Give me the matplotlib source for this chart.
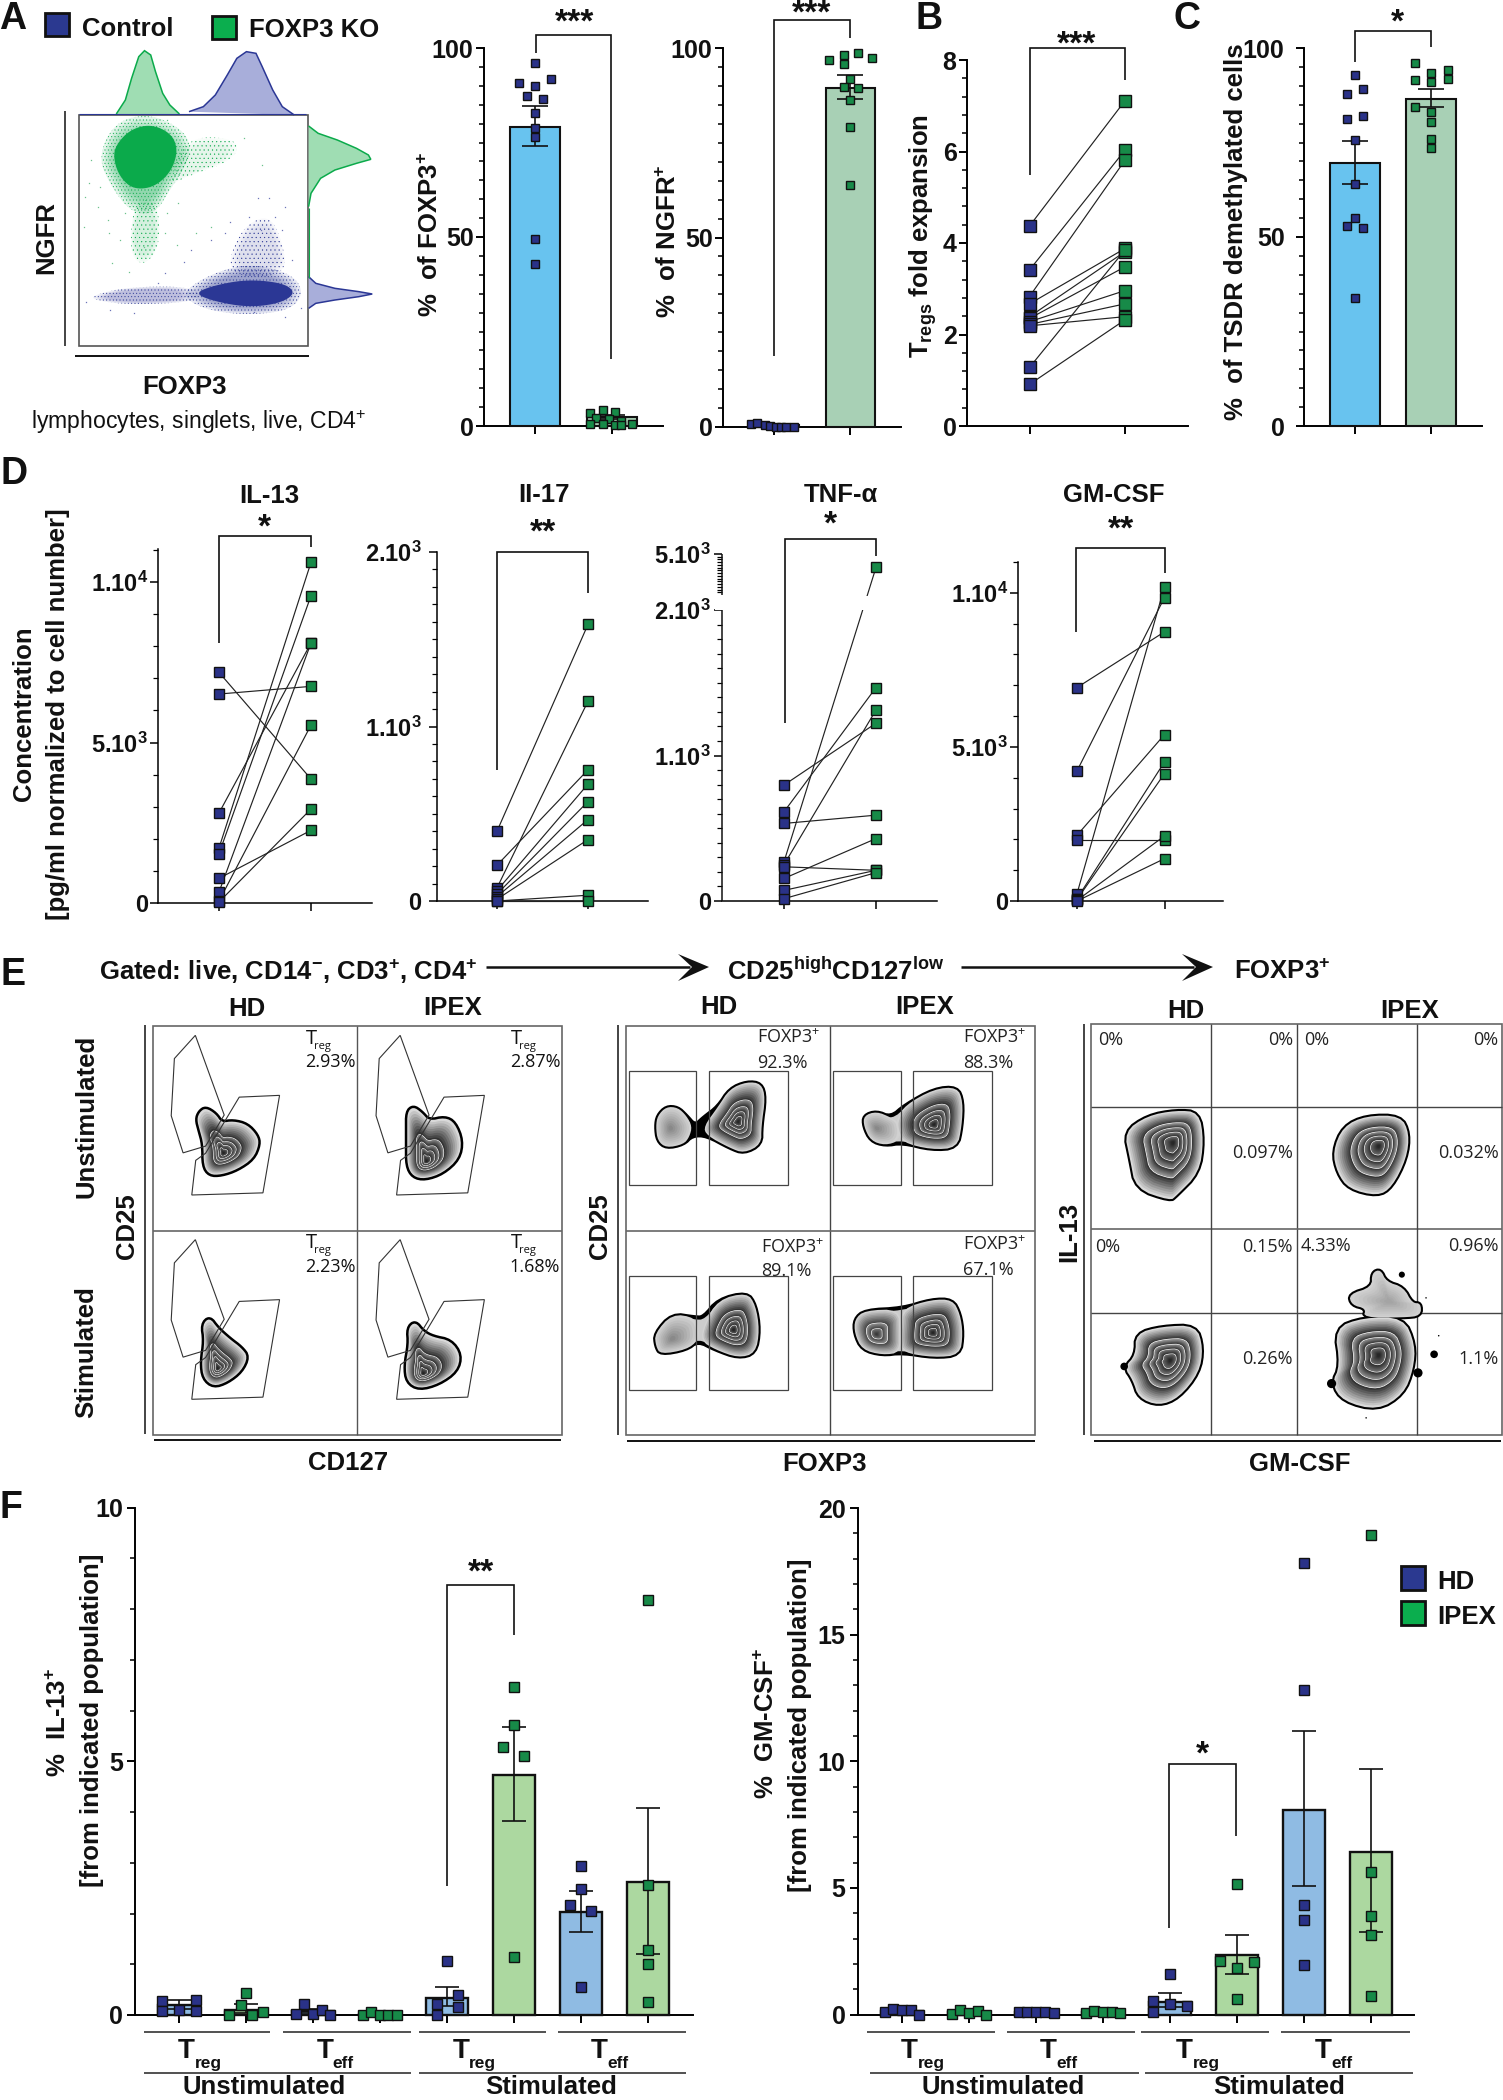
import numpy as np
import matplotlib
matplotlib.use("Agg")
import matplotlib.pyplot as plt
from matplotlib.patches import Polygon, Rectangle

W, H = 1503, 2100
plt.rcParams['font.family'] = ['Liberation Sans', 'DejaVu Sans']
plt.rcParams['mathtext.default'] = 'regular'
plt.rcParams['hatch.linewidth'] = 0.3

NAVY, KOGREEN = '#2A3288', '#178A48'
BLUE_A, GREEN_A = '#68C3EF', '#A8D0B5'
BLUE_F, GREEN_F = '#8FBBE3', '#ACD8A0'
DOT_G, DOT_B = '#0BAA4B', '#2B3795'

# ---------- panel A, % of FOXP3+
a1_mean = [79.2, 2.3]
a1_err_low = [5.0, 0.5]
a1_err_high = [5.4, 0.6]
a1_ctrl = [96, 90.7, 91.8, 89.9, 87.4, 86.5, 82.7, 78.9, 76.5, 49.5, 42.9]
a1_ctrl_off = [0, -.21, .21, 0, -.105, .105, 0, 0, 0, 0, 0]
a1_ko = [4.3, 3.4, 3.7, 2.1, 1.9, 1.2, .5, .5, .2, .5, .3]
a1_ko_off = [-.12, -.28, .04, -.21, -.04, .12, -.28, -.12, .04, .26, .12]
# ---------- panel A, % of NGFR+
a2_mean = [0.4, 89.4]
a2_err_low = [0.1, 2.9]
a2_err_high = [0.2, 3.6]
a2_ctrl = [.7, 1.0, .5, .2, .1, .1, .1, .1]
a2_ctrl_off = [-.3, -.22, -.12, -.05, .02, .09, .16, .26]
a2_ko = [96.9, 98.2, 95.8, 98.7, 97.4, 91.8, 89.7, 89.4, 86.3, 79.1, 63.8]
a2_ko_off = [-.277, -.09, -.09, .094, .28, 0, -.09, .094, 0, 0, 0]
# ---------- panel B
b_ctrl = [4.37, 3.41, 2.83, 2.67, 2.39, 2.35, 2.28, 2.22, 2.19, 1.28, .91]
b_ko = [7.11, 6.03, 5.81, 3.88, 3.81, 3.48, 2.96, 2.67, 2.39, 3.85, 2.32]
# ---------- panel C
c_mean = [69.5, 86.6]
c_err_low = [5.6, 2.1]
c_err_high = [5.9, 2.6]
c_ctrl = [92.8, 87.7, 89.1, 81.2, 82, 75.7, 63.9, 55.1, 52.8, 52.5, 33.8]
c_ctrl_off = [0, -.105, .105, -.105, .105, 0, 0, 0, -.105, .105, 0]
c_ko = [95.9, 93.5, 94.3, 91.9, 91.6, 91, 84.4, 83.1, 80.4, 76, 73.5]
c_ko_off = [-.21, 0, .22, .22, -.21, 0, -.21, 0, 0, 0, 0]
# ---------- panel D (before, after pairs)
il13_ctrl = [7186, 6511, 2804, 1713, 1537, 768, 343, 60, 31]
il13_ko = [3863, 6750, 8100, 10613, 9574, 2264, 8100, 5545, 2928]
il17_ctrl = [400, 205, 75, 60, 40, 25, 10, 0, 0]
il17_ko = [1585, 752, 1145, 670, 570, 467, 352, 33, 0]
tnf_ctrl = [797, 613, 533, 270, 250, 235, 155, 73, 16]
tnf_ko = [1222, 1467, 590, 4016, 1313, 211, 429, 211, 195]
gm_ctrl = [6926, 4221, 2132, 1970, 238, 76, 50, 20, 0]
gm_ko = [8734, 9848, 5400, 1970, 10195, 4513, 4134, 2110, 1374]
# ---------- panel F
f1_mean = [.2, .1, .07, .01, .34, 4.72, 2.02, 2.63]
f1_err_low = [.08, .06, .04, .01, .17, .9, .38, 1.42]
f1_err_high = [.1, .11, .05, .01, .21, .96, .42, 1.45]
f1_points = [[.27, .08, .1, .3, .08], [.44, .19, 0, 0, .06], [.21, .02, .02, .09, 0],
             [0, .05, 0, 0, 0], [1.06, .4, .21, .15, 0], [6.47, 5.72, 5.29, 5.1, 1.15],
             [2.93, 2.48, 2.17, 2.05, .56], [8.18, 2.56, 1.28, 1.0, .26]]
f1_off = [[-.25, -.25, 0, .26, .26], [0, -.08, -.25, .09, .25], [-.13, -.25, 0, .13, .25],
          [-.25, -.13, 0, .12, .26], [0, .16, -.15, .16, -.15], [0, 0, -.16, .15, 0],
          [0, 0, -.16, .15, 0], [0, 0, 0, 0, 0]]
f2_mean = [.12, .08, .09, .09, .5, 2.34, 8.09, 6.43]
f2_err_low = [.04, .04, .02, .02, .22, .73, 3.03, 3.19]
f2_err_high = [.04, .04, .02, .02, .36, .78, 3.1, 3.26]
f2_points = [[.09, .2, .17, .17, 0], [.03, .18, .05, .12, 0], [.08, .1, .1, .1, .06],
             [.06, .12, .09, .1, .06], [1.61, .52, .4, .32, .09], [5.15, 2.12, 2.06, 1.84, .63],
             [17.83, 12.8, 4.32, 3.73, 1.95], [18.95, 5.63, 3.87, 3.15, .72]]
f2_off = [[-.26, -.13, 0, .13, .26], [-.26, -.13, 0, .13, .26], [-.26, -.13, 0, .14, .27],
          [-.26, -.13, 0, .13, .26], [0, -.25, 0, .25, -.25], [0, -.25, .25, 0, 0],
          [0, 0, 0, 0, 0], [0, 0, 0, 0, 0]]

# ---------- flow cytometry shapes
HIST_TOP_G = [(243, 342), (262, 300), (275, 235), (290, 170), (302, 152), (315, 165), (325, 215), (340, 280), (355, 315), (375, 342)]
HIST_TOP_B = [(395, 335), (425, 320), (450, 285), (475, 225), (495, 175), (515, 155), (535, 160), (548, 200), (570, 270), (590, 320), (615, 345)]
HIST_R_G = [(645, 378), (665, 400), (705, 420), (745, 445), (770, 465), (775, 478), (745, 490), (700, 510), (670, 535), (650, 580), (645, 620)]
HIST_R_B = [(645, 830), (660, 850), (700, 865), (750, 875), (778, 882), (750, 890), (700, 900), (660, 910), (645, 925)]
CORE_G = [(240, 440), (270, 390), (315, 372), (358, 400), (372, 450), (358, 515), (322, 562), (278, 568), (250, 530), (238, 480)]
HALO_G = [(205, 470), (240, 365), (315, 340), (390, 395), (400, 470), (355, 570), (325, 640), (275, 640), (230, 555)]
CLOUD_G = [(385, 410), (500, 415), (490, 480), (390, 530), (350, 560)]
TAIL_G = [(280, 600), (330, 600), (335, 740), (300, 800), (270, 760)]
CORE_B = [(405, 880), (450, 855), (520, 838), (595, 850), (618, 880), (585, 910), (520, 922), (450, 905)]
HALO_B = [(375, 880), (450, 815), (530, 790), (615, 825), (635, 885), (600, 935), (500, 945), (420, 925)]
TAIL_B = [(195, 885), (270, 860), (410, 860), (420, 905), (270, 915), (195, 900)]
CLOUD_B = [(470, 830), (500, 690), (560, 640), (590, 720), (600, 830)]
SPARSE_G = [(190, 480), (178, 590), (175, 680), (205, 620), (225, 660), (235, 790), (250, 720), (270, 815), (300, 740), (345, 700), (370, 735), (440, 680), (185, 550), (210, 560), (228, 700), (262, 640), (350, 640), (372, 610), (410, 700), (548, 495), (510, 415), (285, 360), (350, 360)]
SPARSE_B = [(562, 595), (595, 620), (540, 595), (575, 650), (590, 690), (520, 650), (480, 665), (440, 720), (400, 750), (385, 785), (610, 780), (280, 940), (230, 930), (180, 905), (595, 950), (530, 935), (630, 925), (345, 820), (330, 850), (470, 700), (545, 690)]

GATE_A = [(441, 360), (494, 295), (567, 518), (520, 605), (463, 624), (433, 520)]
GATE_B = [(605, 468), (707, 463), (665, 736), (485, 742), (495, 645), (520, 625)]
E1_CELLS = [(0, 0), (518, 0), (0, 572), (518, 572)]
E1_BLOBS = [[(505, 510), (520, 498), (545, 515), (560, 540), (590, 535), (625, 545), (650, 575), (655, 600), (640, 640), (600, 670), (560, 685), (530, 685), (515, 660), (515, 600), (505, 560), (498, 530)],
            [(1030, 510), (1045, 495), (1065, 510), (1085, 535), (1125, 525), (1150, 540), (1168, 590), (1160, 640), (1120, 680), (1075, 697), (1045, 690), (1030, 660), (1030, 600), (1030, 560)],
            [(512, 1105), (530, 1085), (550, 1115), (580, 1145), (610, 1170), (627, 1195), (610, 1235), (575, 1265), (540, 1278), (515, 1255), (510, 1210), (518, 1150)],
            [(1032, 1115), (1050, 1097), (1070, 1125), (1095, 1140), (1140, 1150), (1165, 1190), (1155, 1235), (1110, 1270), (1060, 1285), (1030, 1265), (1025, 1220), (1035, 1160)]]
E1_CENTERS = [(565, 625), (1078, 648), (550, 1228), (1070, 1242)]
E1_TEXT = ['2.93%', '2.87%', '2.23%', '1.68%']

E2_BLOBS = [[(100, 520), (115, 495), (135, 497), (150, 520), (165, 548), (180, 525), (205, 495), (225, 445), (255, 425), (280, 430), (287, 470), (280, 550), (280, 600), (250, 625), (225, 610), (185, 575), (160, 575), (145, 600), (115, 610), (100, 590), (97, 550)],
            [(458, 520), (480, 508), (505, 525), (530, 490), (580, 445), (620, 440), (630, 480), (628, 550), (620, 610), (575, 615), (525, 595), (495, 603), (470, 590), (458, 550)],
            [(95, 1130), (125, 1075), (165, 1085), (180, 1085), (205, 1035), (255, 1015), (270, 1050), (277, 1120), (270, 1185), (240, 1198), (200, 1175), (170, 1150), (150, 1175), (105, 1188), (97, 1165)],
            [(442, 1090), (460, 1065), (525, 1060), (575, 1035), (612, 1035), (625, 1075), (630, 1130), (625, 1190), (580, 1197), (525, 1183), (490, 1190), (455, 1175), (442, 1130)]]
E2_RIGHT = [[(180, 550), (205, 495), (225, 445), (255, 425), (280, 430), (287, 470), (280, 550), (280, 600), (250, 625), (225, 610), (185, 575)],
            [(515, 530), (530, 490), (580, 445), (620, 440), (630, 480), (628, 550), (620, 610), (575, 615), (525, 595), (515, 560)],
            [(180, 1105), (205, 1035), (255, 1015), (270, 1050), (277, 1120), (270, 1185), (240, 1198), (200, 1175), (175, 1150)],
            [(522, 1110), (525, 1060), (575, 1035), (612, 1035), (625, 1075), (630, 1130), (625, 1190), (580, 1197), (525, 1183), (520, 1150)]]
E2_LEFT = [[(100, 520), (115, 495), (135, 497), (150, 520), (160, 550), (155, 580), (145, 600), (115, 610), (100, 590), (97, 550)],
           [(458, 520), (480, 508), (505, 525), (520, 540), (520, 590), (495, 603), (470, 590), (458, 550)],
           [(95, 1130), (125, 1075), (165, 1085), (172, 1120), (170, 1150), (150, 1175), (105, 1188), (97, 1165)],
           [(442, 1090), (460, 1065), (520, 1062), (522, 1120), (522, 1183), (490, 1190), (455, 1175), (442, 1130)]]
E2_C_R = [(240, 537), (580, 545), (232, 1120), (578, 1128)]
E2_C_L = [(122, 555), (480, 555), (125, 1145), (480, 1132)]
E2_GATE_X = [(50, 167), (190, 327), (405, 522), (544, 681)]
E2_GATE_Y = [(396, 715), (969, 1288)]
E2_LABELS = [(272, 296, 272, 366, '92.3%'), (630, 296, 630, 366, '88.3%'), (279, 883, 279, 950, '89.1%'), (630, 876, 630, 946, '67.1%')]

E3_BLOBS = [[(910, 565), (950, 520), (1000, 505), (1040, 510), (1048, 590), (1040, 680), (1000, 745), (990, 758), (930, 725), (920, 640)],
            [(1272, 620), (1290, 550), (1330, 520), (1390, 520), (1405, 570), (1400, 640), (1375, 720), (1350, 745), (1300, 725), (1280, 680)],
            [(910, 1225), (930, 1190), (930, 1130), (975, 1110), (1035, 1107), (1047, 1170), (1040, 1240), (1005, 1310), (970, 1332), (935, 1310), (925, 1260)],
            [(1275, 1115), (1325, 1085), (1395, 1085), (1415, 1160), (1412, 1230), (1395, 1300), (1350, 1345), (1290, 1320), (1270, 1270), (1285, 1220)]]
E3_CENTERS = [(995, 595), (1352, 605), (990, 1205), (1352, 1190)]
E3_UPPER = [(1340, 960), (1355, 950), (1365, 985), (1395, 1000), (1410, 1045), (1425, 1045), (1425, 1080), (1395, 1085), (1325, 1085), (1330, 1060), (1305, 1050), (1300, 1020), (1340, 1000)]
E3_SPOTS = [(1392, 965, 4), (1448, 1188, 5), (1420, 1240, 6), (1270, 1270, 6), (910, 1222, 5), (1434, 1030, 1), (1330, 1366, 1), (1456, 1136, 1)]
E3_LABELS = [(865, 303, '0%', 'left'), (1203, 303, '0%', 'right'), (1222, 303, '0%', 'left'), (1560, 303, '0%', 'right'),
             (1203, 620, '0.097%', 'right'), (1560, 620, '0.032%', 'right'),
             (860, 883, '0%', 'left'), (1203, 883, '0.15%', 'right'), (1217, 880, '4.33%', 'left'), (1560, 880, '0.96%', 'right'),
             (1203, 1197, '0.26%', 'right'), (1560, 1195, '1.1%', 'right')]


def zA(p):
    return [(x / 2.09, y / 3.0) for x, y in p]
def z5(p):
    return [(x / 2.529, 930 + y / 2.8) for x, y in p]
def z6(p):
    return [(600 + x / 1.736, 930 + y / 2.8) for x, y in p]


fig = plt.figure(figsize=(W / 100, H / 100), dpi=100)
ov = fig.add_axes([0, 0, 1, 1], zorder=10)
ov.set_xlim(0, W)
ov.set_ylim(H, 0)
ov.axis('off')
ov.patch.set_alpha(0)


def T(x, y, s, size=18.5, weight='bold', ha='center', va='center', rot=0, family=None, color='#111111'):
    kw = {}
    if family:
        kw['family'] = family
    shift = .146 * size
    if rot == 90:
        x = x + shift
    else:
        y = y + shift
    return ov.text(x, y, s, fontsize=size, fontweight=weight, ha=ha, va=va, rotation=rot,
                   color=color, rotation_mode='anchor', **kw)


def L(xs, ys, lw=1.1, c='#111111'):
    ov.plot(xs, ys, color=c, lw=lw, solid_capstyle='butt', solid_joinstyle='miter')


def bracket(x0, y0, x1, y1, top):
    L([x0, x0, x1, x1], [y0, top, top, y1], lw=1.2)


def make_ax(xl, xr, ytop, y0, ymax, c0, c1, major, minor, labels, pad=1.5, lw=1.4, scale=None, size=18):
    ax = fig.add_axes([xl / W, 1 - y0 / H, (xr - xl) / W, (y0 - ytop) / H], zorder=2)
    ax.patch.set_alpha(0)
    sp = c1 - c0
    ax.set_xlim((xl - c0) / sp, (xr - c0) / sp)
    if scale is not None:
        ax.set_yscale('function', functions=scale)
    ax.set_ylim(0, ymax)
    for s in ('top', 'right'):
        ax.spines[s].set_visible(False)
    for s in ('left', 'bottom'):
        ax.spines[s].set_linewidth(lw)
    ax.set_yticks(major)
    ax.set_yticklabels(labels, fontsize=size, fontweight='bold', color='#111111')
    ax.set_yticks(minor, minor=True)
    ax.tick_params(axis='y', which='major', length=6, width=lw, pad=pad)
    ax.tick_params(axis='y', which='minor', length=3.8, width=lw * .8)
    ax.tick_params(axis='x', which='major', length=6, width=lw, labelbottom=False)
    ax.tick_params(axis='x', which='minor', length=0)
    return ax


def squares(ax, x, y, color, ms):
    ax.plot(x, y, 's', ms=ms, mfc=color, mec='#111111', mew=1.0, ls='none', clip_on=False, zorder=6)


def bars(ax, xs, means, lo, hi, colors, width, cap, lw=1.5):
    ax.bar(xs, means, width=width, color=colors, edgecolor='#111111', linewidth=lw, zorder=3, clip_on=False)
    ax.errorbar(xs, means, yerr=[lo, hi], fmt='none', ecolor='#111111', elinewidth=1.2, capsize=cap,
                capthick=1.2, zorder=4, clip_on=False)


def paired(ax, a, b, ms=7.5):
    for u, v in zip(a, b):
        ax.plot([0, 1], [u, v], color='#222222', lw=0.85, zorder=4, clip_on=False)
    squares(ax, np.zeros(len(a)), a, NAVY, ms)
    squares(ax, np.ones(len(b)), b, KOGREEN, ms)


# ----- A: bar charts
ax = make_ax(484, 663, 48, 426, 100, 535, 612, [0, 50, 100], np.arange(5, 100, 5), ['0', '50', '100'])
ax.set_xticks([0, 1])
bars(ax, [0, 1], a1_mean, a1_err_low, a1_err_high, [BLUE_A, GREEN_A], .65, 9.5)
squares(ax, a1_ctrl_off, a1_ctrl, NAVY, 6.3)
squares(ax, 1 + np.array(a1_ko_off), a1_ko, KOGREEN, 6.3)

ax = make_ax(723, 901, 48, 427, 100, 774, 850.4, [0, 50, 100], np.arange(5, 100, 5), ['0', '50', '100'])
ax.set_xticks([0, 1])
bars(ax, [0, 1], a2_mean, a2_err_low, a2_err_high, [BLUE_A, GREEN_A], .65, 9.5)
squares(ax, a2_ctrl_off, a2_ctrl, NAVY, 6.3)
squares(ax, 1 + np.array(a2_ko_off), a2_ko, KOGREEN, 6.3)

# ----- B
ax = make_ax(967, 1188, 60, 426, 8, 1029.5, 1125, [0, 2, 4, 6, 8], np.arange(.4, 8, .4), ['0', '2', '4', '6', '8'])
ax.set_xticks([0, 1])
paired(ax, b_ctrl, b_ko, 8)

# ----- C
ax = make_ax(1304, 1482, 48, 426, 100, 1355, 1431, [0, 50, 100], np.arange(5, 100, 5), ['0', '50', '100'], pad=8)
ax.set_xticks([0, 1])
bars(ax, [0, 1], c_mean, c_err_low, c_err_high, [BLUE_A, GREEN_A], .65, 9.5)
squares(ax, c_ctrl_off, c_ctrl, NAVY, 6.3)
squares(ax, 1 + np.array(c_ko_off), c_ko, KOGREEN, 6.3)

# ----- D
p3, p4 = '5.10$^{3}$', '1.10$^{4}$'
ax = make_ax(158, 372, 549, 903, 11030, 219, 311, [0, 5000, 10000], np.arange(1000, 11001, 1000), ['0', p3, p4],
             lw=1.1, size=17, pad=1)
ax.set_xticks([0, 1])
paired(ax, il13_ctrl, il13_ko)

ax = make_ax(437, 648, 552, 901, 2000, 497, 588, [0, 1000, 2000], np.arange(100, 2000, 100),
             ['0', '1.10$^{3}$', '2.10$^{3}$'], lw=1.1, size=17, pad=5)
ax.set_xticks([0, 1])
paired(ax, il17_ctrl, il17_ko)


def tnf_fwd(v):
    v = np.asarray(v, dtype=float)
    return np.where(v <= 2000, v * .1455, 306 + (v - 2000) * 41 / 3000)
def tnf_inv(y):
    y = np.asarray(y, dtype=float)
    return np.where(y <= 291, y / .1455, np.where(y < 306, 2000.0, 2000 + (y - 306) * 3000 / 41))


tnf_minor = [m for m in range(100, 2000, 100) if m != 1000] + list(range(2200, 5000, 200))
ax = make_ax(722, 937.5, 554, 901, 5000, 784, 876, [0, 1000, 2000, 5000], tnf_minor,
             ['0', '1.10$^{3}$', '2.10$^{3}$', '5.10$^{3}$'], lw=1.1, size=17, pad=2, scale=(tnf_fwd, tnf_inv))
ax.set_xticks([0, 1])
ax.spines['left'].set_visible(False)
paired(ax, tnf_ctrl, tnf_ko)
ov.add_patch(Rectangle((715, 596), 225, 13.5, fc='white', ec='none', zorder=1))
L([722, 722], [610, 901], lw=1.1)
L([722, 722], [554, 595], lw=1.1)

ax = make_ax(1018, 1223, 562, 901, 11000, 1077, 1164.5, [0, 5000, 10000], np.arange(1000, 11001, 1000), ['0', p3, p4],
             lw=1.1, size=17, pad=1)
ax.set_xticks([0, 1])
paired(ax, gm_ctrl, gm_ko)

# ----- F
colors_f = [BLUE_F, GREEN_F] * 4
ax = make_ax(135, 693, 1507.5, 2015, 10, 179, 246, [0, 5, 10], [1, 2, 3, 4, 6, 7, 8, 9], ['0', '5', '10'], size=18, pad=2.5)
ax.set_xticks(range(8))
bars(ax, range(8), f1_mean, f1_err_low, f1_err_high, colors_f, .63, 8.5, lw=1.7)
for i, (p, o) in enumerate(zip(f1_points, f1_off)):
    squares(ax, i + np.array(o), p, [NAVY, KOGREEN][i % 2], 7.2)

ax = make_ax(858, 1414, 1508, 2014.5, 20, 902, 969, [0, 5, 10, 15, 20],
             [m for m in range(1, 20) if m % 5], ['0', '5', '10', '15', '20'], size=18, pad=3)
ax.set_xticks(range(8))
bars(ax, range(8), f2_mean, f2_err_low, f2_err_high, colors_f, .63, 8.5, lw=1.7)
for i, (p, o) in enumerate(zip(f2_points, f2_off)):
    squares(ax, i + np.array(o), p, [NAVY, KOGREEN][i % 2], 7.2)

# ----- text and brackets, top row
T(13, 15, 'A', 27)
T(929, 15, 'B', 27)
T(1187, 15, 'C', 27)
T(14, 470, 'D', 27)
T(13, 971, 'E', 27)
T(11, 1504, 'F', 27)
ov.add_patch(Rectangle((45, 13), 24, 23, fc='#2B3990', ec='#111111', lw=2))
T(82, 26, 'Control', ha='left')
ov.add_patch(Rectangle((212, 16), 24, 23, fc='#0BAE4E', ec='#111111', lw=2))
T(249, 27, 'FOXP3 KO', ha='left')
T(428, 234, '%  of FOXP3$^{+}$', rot=90)
T(666, 241, '%  of NGFR$^{+}$', rot=90)
T(920, 236, 'T$_{regs}$ fold expansion', rot=90)
T(1233, 232, '%  of TSDR demethylated cells', rot=90)
STAR = 24
bracket(536, 53, 611, 359, 35)
T(575, 20, '***', STAR)
bracket(774, 356, 850, 38, 20)
T(812, 11, '***', STAR)
bracket(1029.5, 175, 1125, 80, 48)
T(1077, 42, '***', STAR)
bracket(1355, 62, 1431, 47, 31)
T(1397, 20, '*', STAR)

# ----- text and brackets, D
T(21, 714, 'Concentration', rot=90)
T(55, 714, '[pg/ml normalized to cell number]', rot=90)
for cx, ty, name in [(269, 493, 'IL-13'), (544, 492, 'II-17'), (841, 492, 'TNF-α'), (1114, 492, 'GM-CSF')]:
    T(cx, ty, name)
bracket(219, 643, 311, 547, 536)
T(264, 525, '*', STAR)
bracket(497, 770, 588, 593, 552)
T(543, 530, '**', STAR)
bracket(785, 723, 876, 556, 539)
T(830, 522, '*', STAR)
bracket(1076, 632, 1165, 573, 548)
T(1121, 527, '**', STAR)


# ----- helpers for smooth outlines
def smooth(p, n=3):
    p = np.asarray(p, dtype=float)
    for _ in range(n):
        q = np.roll(p, -1, axis=0)
        p = np.column_stack([.75 * p + .25 * q, .25 * p + .75 * q]).reshape(-1, 2)
    return p


# ----- panel A dot plot
x0, y0 = 78.5, 115
ov.add_patch(Rectangle((x0, y0), 229.5, 231, fc='white', ec='#555555', lw=1.2, zorder=1))
L([65, 65], [111, 346], lw=1.1)
L([75, 309], [356, 356], lw=1.4)
T(44, 238, 'NGFR', rot=90)
T(184, 384, 'FOXP3')
T(199, 420, 'lymphocytes, singlets, live, CD4$^{+}$', 16.6, weight='normal')
for pts, hatch, col, a in [(HALO_G, '.....', DOT_G, .11), (CLOUD_G, '....', DOT_G, .02), (TAIL_G, '....', DOT_G, .035),
                           (HALO_B, '.....', DOT_B, .11), (TAIL_B, '.....', DOT_B, .07), (CLOUD_B, '....', DOT_B, .03)]:
    sm = smooth(zA(pts))
    cen = sm.mean(axis=0)
    for s in (1.0, .93, .86, .79, .72):
        ov.add_patch(Polygon(cen + s * (sm - cen), closed=True, fc=col, ec='none', alpha=a, zorder=2))
    ov.add_patch(Polygon(sm, closed=True, fill=False, hatch=hatch, edgecolor=col, lw=0, zorder=2))
ov.add_patch(Polygon(smooth(zA(CORE_G)), closed=True, fc=DOT_G, ec='none', zorder=3))
ov.add_patch(Polygon(smooth(zA(CORE_B)), closed=True, fc=DOT_B, ec='none', zorder=3))
ov.plot(*zip(*zA(SPARSE_G)), ls='none', marker='s', ms=.9, mfc='#6CC28C', mec='none', zorder=2)
ov.plot(*zip(*zA(SPARSE_B)), ls='none', marker='s', ms=.9, mfc='#6C74B8', mec='none', zorder=2)
for pts, fc, ec in [(HIST_TOP_G, '#9FDDB3', DOT_G), (HIST_TOP_B, '#A8AEDA', DOT_B),
                    (HIST_R_G, '#9FDDB3', DOT_G), (HIST_R_B, '#A8AEDA', DOT_B)]:
    ov.add_patch(Polygon(zA(pts), closed=False, fc=fc, ec=ec, lw=1.1, zorder=2))
L([78.5, 306], [114, 114], lw=.8, c=DOT_B)
L([309, 309], [208, 278], lw=.8, c=DOT_G)


# ----- zebra contour plots
def zebra(pts, c, rings, g_start=(.8, .55, .5, .42, .35), g_end=.12, steps=9, z=3, rl=.9):
    p = smooth(pts, 2)
    c = np.asarray(c, dtype=float)
    bounds = [1.0] + list(rings) + [0.02]
    for i in range(len(bounds) - 1):
        b0, b1 = bounds[i], bounds[i + 1]
        g0 = g_start[min(i, len(g_start) - 1)]
        for t in np.linspace(0, 1, steps, endpoint=False):
            s = b0 + (b1 - b0) * t
            g = g0 + (g_end - g0) * t
            ov.add_patch(Polygon(c + s * (p - c), closed=True, fc=str(g), ec='none', zorder=z))
        if b1 > .03 and i < len(bounds) - 2:
            ov.add_patch(Polygon(c + b1 * (p - c), closed=True, fc='none', ec='white', lw=rl, zorder=z))


def outline(pts, fc='white', lw=3.0, z=2.9):
    ov.add_patch(Polygon(smooth(pts, 2), closed=True, fc=fc, ec='black', lw=lw, zorder=z, joinstyle='round'))


# E1
ov.add_patch(Rectangle((152.6, 1026), 409.4, 409, fc='none', ec='#666666', lw=1.2, zorder=2))
L([357, 357], [1026, 1435], lw=1, c='#555555')
L([152.6, 562], [1231, 1231], lw=1.2, c='#666666')
L([145, 145], [1025, 1434], lw=1.1)
L([154, 561], [1440, 1440], lw=1.4)
for i, (blob, cen) in enumerate(zip(E1_BLOBS, E1_CENTERS)):
    ob = z5(blob)
    outline(ob, lw=3.6)
    zebra(ob, z5([cen])[0], [.5, .36, .24, .12], g_start=(.85, .5, .5, .42, .35), rl=.8)
    dx, dy = E1_CELLS[i]
    ga = [(x + dx, y + dy) for x, y in GATE_A]
    gb = [(x + dx, y + dy) for x, y in GATE_B]
    ov.add_patch(Polygon(z5(ga), closed=True, fc='none', ec='#333333', lw=.8, zorder=4))
    ov.add_patch(Polygon(z5(gb), closed=True, fc='none', ec='#333333', lw=.8, zorder=4))
    tx, ty = z5([(787 + dx, 298 + dy)])[0]
    T(tx, ty, 'T', 14.5, weight='normal', family='Open Sans')
    tx, ty = z5([(816 + dx, 322 + dy)])[0]
    T(tx, ty, 'reg', 8, weight='normal', family='Open Sans')
    tx, ty = z5([(835 + dx, 365 + dy)])[0]
    T(tx, ty, E1_TEXT[i], 13, weight='normal', family='Open Sans')

T(99, 969, 'Gated: live, CD14$^{-}$, CD3$^{+}$, CD4$^{+}$', ha='left')
T(727, 969, 'CD25$^{high}$CD127$^{low}$', ha='left')
T(1234, 969, 'FOXP3$^{+}$', ha='left')
for x_from, x_to in [(486, 690), (961, 1194)]:
    L([x_from, x_to], [967, 967], lw=1.8)
    tip = x_to + 19
    ov.add_patch(Polygon([(tip, 967), (tip - 31, 954), (tip - 17, 967), (tip - 31, 981)], closed=True, fc='#111111', ec='none'))
for cx, cy, s in [(247, 1006, 'HD'), (453, 1005, 'IPEX'), (719, 1004, 'HD'), (925, 1004, 'IPEX'),
                  (1186, 1008, 'HD'), (1410, 1008, 'IPEX'), (348, 1460, 'CD127'), (825, 1461, 'FOXP3'), (1300, 1461, 'GM-CSF')]:
    T(cx, cy, s)
T(84, 1116, 'Unstimulated', rot=90)
T(84, 1352, 'Stimulated', rot=90)
T(124, 1226, 'CD25', rot=90)
T(597, 1226, 'CD25', rot=90)
T(1067, 1232, 'IL-13', rot=90)

# E2
ov.add_patch(Rectangle((626, 1026), 409, 409, fc='none', ec='#666666', lw=1.2, zorder=2))
L([830, 830], [1026, 1435], lw=1, c='#444444')
L([626, 1035], [1231, 1231], lw=1.2, c='#666666')
L([618, 618], [1025, 1435], lw=1.1)
L([627, 1035], [1441, 1441], lw=1.4)
for i in range(4):
    outline(z6(E2_BLOBS[i]), fc='black' if i == 0 else '0.8')
    zebra(z6(E2_LEFT[i]), z6([E2_C_L[i]])[0], [.45, .22] if i == 3 else [],
          g_start=(.82, .55, .45), g_end=.5 if i != 3 else .2)
    zebra(z6(E2_RIGHT[i]), z6([E2_C_R[i]])[0], [.55, .38, .25, .13], g_start=(.82, .55, .5, .42, .35), rl=.8)
for gy in E2_GATE_Y:
    for gx in E2_GATE_X:
        c = z6([(gx[0], gy[0]), (gx[1], gy[1])])
        ov.add_patch(Rectangle(c[0], c[1][0] - c[0][0], c[1][1] - c[0][1], fc='none', ec='#444444', lw=.9, zorder=4))
for x1, y1, x2, y2, s in E2_LABELS:
    a, b = z6([(x1, y1), (x2, y2)])
    T(a[0], a[1], 'FOXP3$^{+}$', 13, weight='normal', ha='left', family='Open Sans', color='#222222')
    T(b[0], b[1], s, 13, weight='normal', ha='left', family='Open Sans', color='#222222')

# E3
ov.add_patch(Rectangle((1091, 1024), 411, 411, fc='none', ec='#666666', lw=1.2, zorder=2))
L([1297, 1297], [1024, 1435], lw=1, c='#444444')
L([1091, 1502], [1229, 1229], lw=1.2, c='#666666')
for vx in (1211, 1417):
    L([vx, vx], [1024, 1435], lw=1, c='#444444')
for hy in (1107, 1313):
    L([1091, 1502], [hy, hy], lw=1, c='#444444')
L([1084, 1084], [1024, 1435], lw=1.1)
L([1094, 1501], [1441, 1441], lw=1.4)
outline(z6(E3_UPPER), fc='0.75')
zebra(z6(E3_UPPER), z6([(1370, 1040)])[0], [], g_start=(.82,), g_end=.62)
for blob, cen in zip(E3_BLOBS, E3_CENTERS):
    outline(z6(blob))
    zebra(z6(blob), z6([cen])[0], [.62, .46, .32, .18], g_start=(.85, .6, .55, .45, .4), rl=.9)
sx, sy = zip(*z6([(a, b) for a, b, _ in E3_SPOTS]))
ov.scatter(sx, sy, s=[(r * 1.1) ** 2 for _, _, r in E3_SPOTS], c='black', marker='o', zorder=5, linewidths=0)
for x, y, s, ha in E3_LABELS:
    px, py = z6([(x, y)])[0]
    T(px, py, s, 13, weight='normal', ha=ha, family='Open Sans', color='#222222')


# ----- F decorations
def groups(spans, yy=2032):
    for a, b in spans:
        L([a, b], [yy, yy], lw=1.2, c='#333333')


groups([(144, 270), (283, 411), (419, 546), (558, 686)])
groups([(144, 411), (419, 686)], 2073)
groups([(866.5, 994.5), (1007, 1135), (1141, 1269), (1281, 1410)])
groups([(870, 1138.5), (1145, 1413)], 2073)
for tx, sx_, s in [(186, 208, 'reg'), (325, 343, 'eff'), (461, 482, 'reg'), (599, 618, 'eff'),
                   (909, 931, 'reg'), (1048.5, 1066.5, 'eff'), (1184, 1206, 'reg'), (1323, 1342, 'eff')]:
    T(tx, 2048, 'T', 20)
    T(sx_, 2062, s, 12.5)
for cx, s in [(264, 'Unstimulated'), (551, 'Stimulated'), (1003, 'Unstimulated'), (1279, 'Stimulated')]:
    T(cx, 2084, s)
T(56, 1722, '%  IL-13$^{+}$', rot=90)
T(89, 1720, '[from indicated population]', rot=90)
T(764, 1724, '%  GM-CSF$^{+}$', rot=90)
T(797, 1725, '[from indicated population]', rot=90)
bracket(447, 1886, 514, 1635, 1585)
T(481, 1570, '**', STAR)
bracket(1169, 1928, 1236, 1836, 1764)
T(1202, 1752, '*', STAR)
ov.add_patch(Rectangle((1401, 1566), 24, 24, fc='#2B3990', ec='#111111', lw=2))
T(1437, 1579, 'HD', ha='left')
ov.add_patch(Rectangle((1401, 1601), 24, 24, fc='#0BAE4E', ec='#111111', lw=2))
T(1437, 1614, 'IPEX', ha='left')

fig.savefig('out.png', dpi=100)
